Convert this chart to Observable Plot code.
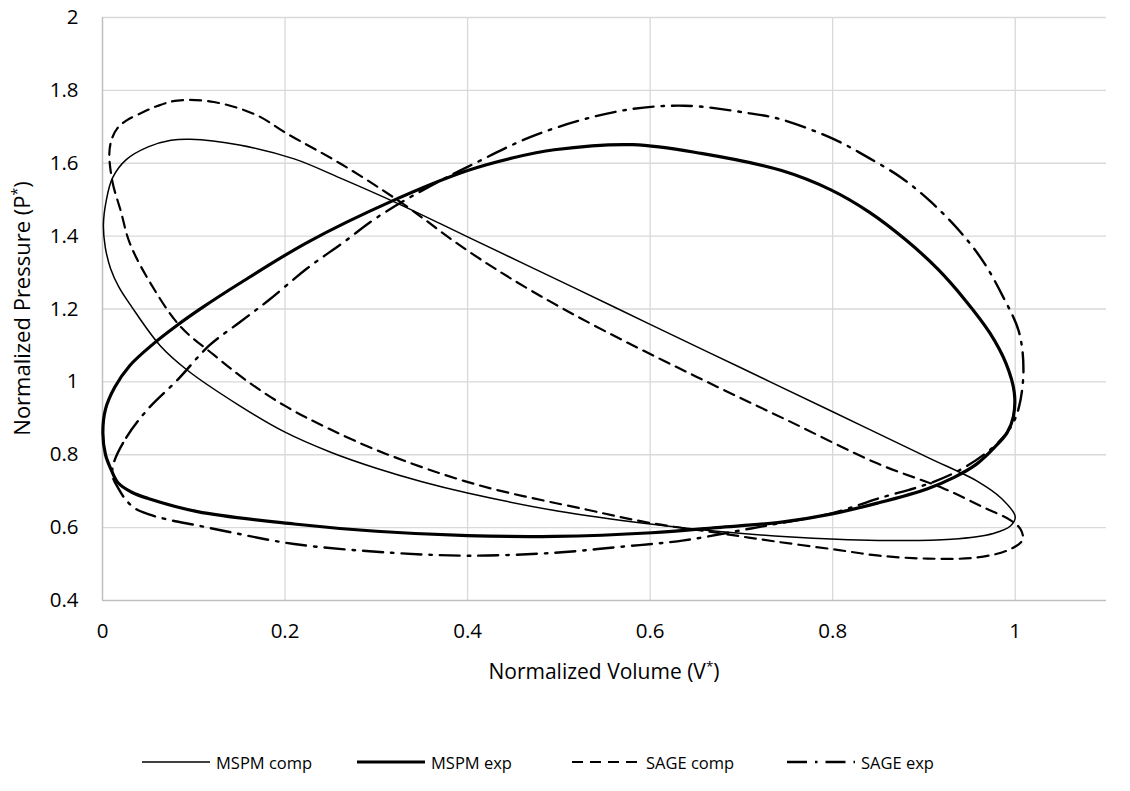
<!DOCTYPE html>
<html>
<head>
<meta charset="utf-8">
<script src="https://cdn.jsdelivr.net/npm/d3@7"></script>
<script src="https://cdn.jsdelivr.net/npm/@observablehq/plot@0.6"></script>
<style>
  html, body { margin: 0; padding: 0; background: #fff; }
  #wrap { width: 1130px; font-family: "Open Sans", sans-serif; color: #000; }
  #legend { display: flex; align-items: center; padding-left: 142px; margin-top: 49px; font-size: 16.5px; height: 26px; }
  .item { display: flex; align-items: center; width: 215px; }
  .item svg { margin-right: 6px; flex: none; }
</style>
</head>
<body>
<div id="wrap"></div>
<script>
// ---------- data ----------
const xTicks = [0, 0.2, 0.4, 0.6, 0.8, 1];
const yTicks = [0.4, 0.6, 0.8, 1, 1.2, 1.4, 1.6, 1.8, 2];
const seriesNames = ["MSPM comp", "MSPM exp", "SAGE comp", "SAGE exp"];

const mspmCompV = [1.0, 0.985, 0.96, 0.904, 0.8, 0.7, 0.6, 0.517, 0.4, 0.325, 0.26, 0.21, 0.15, 0.096, 0.075, 0.05, 0.026, 0.011, 0.004, 0.001, 0.003, 0.009, 0.018, 0.032, 0.063, 0.093, 0.15, 0.2, 0.25, 0.3, 0.35, 0.4, 0.5, 0.6, 0.673, 0.75, 0.85, 0.93, 0.976, 0.995];
const mspmCompP = [0.63, 0.68, 0.725, 0.793, 0.918, 1.038, 1.158, 1.258, 1.398, 1.488, 1.56, 1.612, 1.65, 1.666, 1.663, 1.645, 1.61, 1.56, 1.496, 1.43, 1.37, 1.31, 1.26, 1.206, 1.10, 1.032, 0.935, 0.862, 0.807, 0.763, 0.726, 0.695, 0.645, 0.61, 0.59, 0.575, 0.565, 0.568, 0.584, 0.605];

const mspmExpV = [0.0004, 0.0033, 0.0134, 0.03, 0.056, 0.08, 0.11, 0.15, 0.2246, 0.317, 0.40, 0.45, 0.495, 0.581, 0.656, 0.744, 0.798, 0.84, 0.88, 0.915, 0.945, 0.972, 0.99, 0.999, 0.998, 0.991, 0.978, 0.958, 0.933, 0.904, 0.85, 0.798, 0.744, 0.673, 0.602, 0.495, 0.40, 0.30, 0.21, 0.104, 0.05, 0.032, 0.017, 0.0093, 0.0033];
const mspmExpP = [0.86, 0.925, 0.985, 1.045, 1.105, 1.152, 1.205, 1.27, 1.383, 1.496, 1.58, 1.615, 1.637, 1.651, 1.627, 1.58, 1.527, 1.466, 1.39, 1.31, 1.225, 1.135, 1.05, 0.97, 0.905, 0.86, 0.822, 0.775, 0.738, 0.707, 0.668, 0.637, 0.615, 0.6, 0.586, 0.576, 0.578, 0.59, 0.61, 0.644, 0.68, 0.697, 0.723, 0.76, 0.8];

const sageCompV = [0.0075, 0.011, 0.02, 0.03, 0.053, 0.085, 0.122, 0.157, 0.2, 0.246, 0.31, 0.41, 0.531, 0.602, 0.673, 0.737, 0.805, 0.851, 0.904, 0.958, 0.993, 1.008, 1.006, 0.995, 0.965, 0.922, 0.85, 0.75, 0.65, 0.55, 0.47, 0.4, 0.325, 0.26, 0.203, 0.168, 0.122, 0.082, 0.06, 0.04, 0.026, 0.016, 0.01];
const sageCompP = [1.627, 1.548, 1.469, 1.38, 1.269, 1.153, 1.074, 1.005, 0.934, 0.874, 0.803, 0.718, 0.649, 0.612, 0.586, 0.562, 0.539, 0.523, 0.515, 0.518, 0.539, 0.566, 0.595, 0.62, 0.656, 0.707, 0.775, 0.895, 1.015, 1.14, 1.25, 1.36, 1.496, 1.6, 1.68, 1.733, 1.768, 1.772, 1.757, 1.735, 1.717, 1.695, 1.665];

const sageExpV = [0.012, 0.026, 0.05, 0.082, 0.117, 0.15, 0.182, 0.224, 0.264, 0.3, 0.35, 0.40, 0.477, 0.566, 0.637, 0.709, 0.744, 0.803, 0.84, 0.876, 0.908, 0.939, 0.965, 0.987, 1.004, 1.009, 1.004, 0.995, 0.98, 0.947, 0.91, 0.85, 0.8, 0.744, 0.709, 0.637, 0.566, 0.495, 0.403, 0.317, 0.21, 0.139, 0.104, 0.07, 0.05, 0.036, 0.026, 0.018, 0.011];
const sageExpP = [0.775, 0.847, 0.926, 1.005, 1.1, 1.163, 1.224, 1.311, 1.383, 1.45, 1.525, 1.59, 1.68, 1.743, 1.758, 1.737, 1.72, 1.664, 1.614, 1.559, 1.493, 1.414, 1.33, 1.232, 1.138, 1.033, 0.93, 0.875, 0.83, 0.769, 0.725, 0.68, 0.64, 0.613, 0.597, 0.565, 0.547, 0.531, 0.523, 0.531, 0.555, 0.588, 0.606, 0.623, 0.637, 0.652, 0.675, 0.705, 0.741];

// ---------- styling ----------
const styles = {
  "MSPM comp": {strokeWidth: 1.5, dash: null},
  "MSPM exp":  {strokeWidth: 3.2, dash: null},
  "SAGE comp": {strokeWidth: 2.2, dash: "11,7"},
  "SAGE exp":  {strokeWidth: 2.4, dash: "20,8,2.5,8"}
};
const seriesArrays = {
  "MSPM comp": [mspmCompV, mspmCompP],
  "MSPM exp": [mspmExpV, mspmExpP],
  "SAGE comp": [sageCompV, sageCompP],
  "SAGE exp": [sageExpV, sageExpP]
};
const rows = seriesNames.flatMap(name => {
  const [vs, ps] = seriesArrays[name];
  return vs.map((v, i) => ({series: name, v, p: ps[i]}));
});

const FONT = "Open Sans, sans-serif";
const fmt = d3.format("~g");

const chart = Plot.plot({
  width: 1130,
  height: 700,
  marginLeft: 102,
  marginRight: 24,
  marginTop: 17,
  marginBottom: 100,
  style: {fontFamily: FONT, fontSize: "20.5px", color: "#000", background: "#fff"},
  x: {domain: [0, 1.1]},
  y: {domain: [0.4, 2]},
  marks: [
    Plot.gridX(xTicks.slice(1), {stroke: "#d9d9d9", strokeOpacity: 1, strokeWidth: 1.3}),
    Plot.gridY(yTicks.slice(1), {stroke: "#d9d9d9", strokeOpacity: 1, strokeWidth: 1.3}),
    Plot.ruleX([0], {stroke: "#bfbfbf", strokeWidth: 1.5}),
    Plot.ruleY([0.4], {stroke: "#bfbfbf", strokeWidth: 1.5}),
    Plot.axisX(xTicks, {tickSize: 0, tickPadding: 23, tickFormat: fmt, label: null, fontSize: 20.5}),
    Plot.axisY(yTicks, {tickSize: 0, tickPadding: 24, tickFormat: fmt, label: null, fontSize: 20.5}),
    ...seriesNames.map(name => Plot.line(rows.filter(r => r.series === name), {
      x: "v", y: "p",
      curve: "catmull-rom-closed",
      stroke: "#000",
      strokeWidth: styles[name].strokeWidth,
      strokeDasharray: styles[name].dash,
      strokeLinejoin: "round"
    }))
  ]
});

// axis titles with superscript asterisk
const svg = d3.select(chart);
const xr = chart.scale("x").range, yr = chart.scale("y").range;
const xt = svg.append("text")
  .attr("x", (xr[0] + xr[1]) / 2).attr("y", 679)
  .attr("text-anchor", "middle").attr("font-size", 21).attr("font-family", FONT).attr("fill", "#000");
xt.append("tspan").text("Normalized Volume (V");
xt.append("tspan").attr("dy", -8).attr("font-size", 13.5).text("*");
xt.append("tspan").attr("dy", 8).text(")");

const cy = (yr[0] + yr[1]) / 2;
const yt = svg.append("text")
  .attr("transform", `translate(30,${cy}) rotate(-90)`)
  .attr("text-anchor", "middle").attr("font-size", 22).attr("font-family", FONT).attr("fill", "#000");
yt.append("tspan").text("Normalized Pressure (P");
yt.append("tspan").attr("dy", -8).attr("font-size", 14).text("*");
yt.append("tspan").attr("dy", 8).text(")");

const wrap = document.getElementById("wrap");
wrap.appendChild(chart);

// legend below
const legend = d3.select(wrap).append("div").attr("id", "legend");
seriesNames.forEach(name => {
  const it = legend.append("div").attr("class", "item");
  const s = it.append("svg").attr("width", 68).attr("height", 12);
  s.append("line").attr("x1", 0).attr("x2", 68).attr("y1", 6).attr("y2", 6)
    .attr("stroke", "#000").attr("stroke-width", styles[name].strokeWidth)
    .attr("stroke-dasharray", styles[name].dash);
  it.append("span").text(name);
});
</script>
</body>
</html>
